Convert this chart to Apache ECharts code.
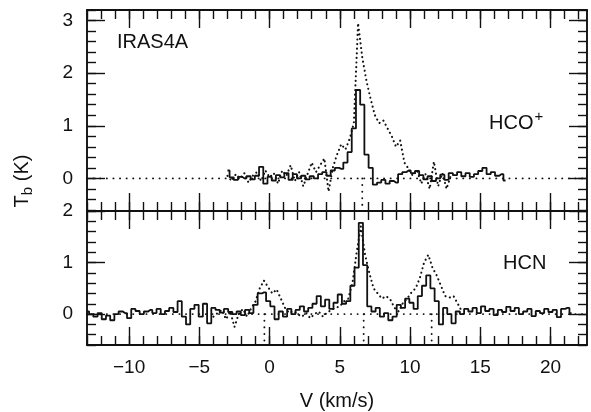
<!DOCTYPE html>
<html>
<head>
<meta charset="utf-8">
<script src="https://cdn.jsdelivr.net/npm/echarts@6/dist/echarts.min.js"></script>
<style>
html,body{margin:0;padding:0;background:#fff;}
#chart{width:591px;height:412px;}
</style>
</head>
<body>
<div id="chart"></div>
<script>
// ---------- data ----------
const channelWidth = 0.3;            // km/s
const xRange = [-13, 22.6];
const yTopRange = [-0.62, 3.2];
const yBotRange = [-0.6, 2.0];

const xMajorTicks = [-10, -5, 0, 5, 10, 15, 20];
const xMinorTicks = [-13,-12,-11,-10,-9,-8,-7,-6,-5,-4,-3,-2,-1,0,1,2,3,4,5,6,7,8,9,10,11,12,13,14,15,16,17,18,19,20,21,22];
const yTopMajorTicks = [0, 1, 2, 3];
const yTopMinorTicks = [-0.6,-0.4,-0.2,0,0.2,0.4,0.6,0.8,1,1.2,1.4,1.6,1.8,2,2.2,2.4,2.6,2.8,3,3.2];
const yBotMajorTicks = [0, 1, 2];
const yBotMinorTicks = [-0.6,-0.4,-0.2,0,0.2,0.4,0.6,0.8,1,1.2,1.4,1.6,1.8,2];

// HCO+ panel, solid spectrum (first channel at -3.0 km/s)
const hcoSolidStart = -3.0;
const hcoSolid = [
  0.15, 0.02, -0.03, 0.03, 0.00, 0.04, -0.02, 0.05, 0.22, -0.10,   // -3.0 .. -0.3
  0.03, -0.04, 0.06, 0.02, 0.10, -0.03, 0.08, 0.00, 0.05, -0.02,   //  0.0 ..  2.7
  0.04, 0.00, 0.08, 0.12, 0.05, 0.15, 0.20, 0.18, 0.30, 0.50,      //  3.0 ..  5.7
  0.95, 1.68, 1.40, 0.45, 0.20, -0.12, -0.08, -0.03, -0.10, -0.05, //  6.0 ..  8.7
  -0.08, 0.08, 0.12, 0.15, 0.10, 0.14, 0.06, -0.02, 0.04, -0.05,   //  9.0 .. 11.7
  0.00, 0.07, -0.03, 0.10, 0.06, 0.12, 0.04, 0.10, 0.03, 0.08,     // 12.0 .. 14.7
  0.14, 0.20, 0.08, 0.12, 0.05, 0.08, -0.04                        // 15.0 .. 16.8
];
// HCO+ panel, dotted spectrum (first channel at -3.0 km/s)
const hcoDottedStart = -3.0;
const hcoDotted = [
  0.05, -0.05, 0.08, 0.00, 0.10, -0.08, 0.05, 0.12, -0.05, 0.15,   // -3.0 .. -0.3
  0.02, 0.10, -0.10, 0.15, 0.05, 0.25, -0.05, 0.12, -0.15, 0.08,   //  0.0 ..  2.7
  0.30, 0.12, 0.25, 0.38, -0.25, 0.20, 0.45, 0.65, 0.55, 0.75,     //  3.0 ..  5.7
  1.05, 2.95, 2.30, 1.85, 1.50, 1.20, 1.05, 1.10, 0.95, 0.80,      //  6.0 ..  8.7
  0.60, 0.72, 0.30, 0.18, 0.05, 0.15, -0.10, 0.08, -0.20, 0.32,    //  9.0 .. 11.7
  -0.15, 0.10, -0.20, 0.05                                         // 12.0 .. 12.9
];
// HCN panel, solid spectrum (first channel at -13.0 km/s)
const hcnSolidStart = -13.0;
const hcnSolid = [
  0.05, 0.00, -0.05, 0.02, -0.10, -0.03, -0.12, 0.00, 0.05, 0.02,  // -13.0 .. -10.3
  -0.08, 0.10, 0.06, 0.00, 0.05, 0.08, 0.02, 0.10, 0.00, 0.06,     // -10.0 ..  -7.3
  0.12, 0.04, 0.25, -0.05, -0.20, 0.10, 0.18, -0.05, 0.20, -0.18,  //  -7.0 ..  -4.3
  0.12, 0.08, 0.03, 0.10, 0.04, 0.00, 0.05, -0.02, 0.08, 0.02,     //  -4.0 ..  -1.3
  0.18, 0.40, 0.42, 0.25, 0.15, -0.10, 0.05, -0.05, 0.10, 0.00,    //  -1.0 ..   1.7
  0.08, 0.15, 0.05, 0.12, 0.20, 0.35, 0.15, 0.28, 0.10, 0.22,      //   2.0 ..   4.7
  0.38, 0.20, 0.25, 0.55, 0.90, 1.77, 0.95, 0.15, 0.05, 0.12,      //   5.0 ..   7.7
  -0.05, 0.02, -0.12, -0.05, 0.18, 0.12, 0.30, 0.22, 0.10, 0.35,   //   8.0 ..  10.7
  0.55, 0.75, 0.50, 0.25, -0.20, 0.12, 0.00, -0.18, 0.05, 0.00,    //  11.0 ..  13.7
  0.10, 0.05, 0.12, 0.02, 0.15, 0.06, 0.10, -0.02, 0.08, 0.04,     //  14.0 ..  16.7
  0.14, 0.06, 0.12, 0.00, 0.05, 0.10, -0.04, 0.06, 0.02, 0.10,     //  17.0 ..  19.7
  0.04, 0.08, -0.06, 0.10, 0.12, 0.02                              //  20.0 ..  21.5
];
// HCN panel, dotted spectrum (first channel at -4.0 km/s)
const hcnDottedStart = -4.0;
const hcnDotted = [
  -0.05, 0.02, 0.08, -0.10, 0.05, -0.25, 0.00, 0.10, -0.05, 0.12,  // -4.0 .. -1.3
  0.25, 0.50, 0.65, 0.52, 0.40, 0.48, 0.30, 0.12, 0.02, 0.06,      // -1.0 ..  1.7
  0.00, -0.05, 0.02, -0.08, 0.00, 0.05, -0.05, 0.03, 0.08, 0.12,   //  2.0 ..  4.7
  0.15, 0.25, 0.30, 0.60, 1.20, 1.70, 1.15, 0.80, 0.50, 0.40,      //  5.0 ..  7.7
  0.30, 0.35, 0.28, 0.12, 0.05, 0.22, 0.30, 0.42, 0.50, 0.70,      //  8.0 .. 10.7
  1.00, 1.15, 0.90, 0.75, 0.55, 0.35, 0.32, 0.35, 0.20, 0.05       // 11.0 .. 13.7
];
// velocity markers (dotted verticals below zero)
const hcoMarkers = [6.6];
const hcnMarkers = [-0.37, 6.7, 11.54];
const markerDepth = -0.6;

// ---------- build ----------
const FONT = 'Liberation Sans';
const INK = '#111';

function toPairs(v0, vals) {
  return vals.map((t, i) => [Math.round((v0 + i * channelWidth) * 100) / 100, t]);
}

function xAx(grid, pos, ticks, len, showLine, labels, name) {
  return {
    type: 'value', gridIndex: grid, position: pos,
    min: xRange[0], max: xRange[1],
    axisLine: { show: showLine, onZero: false, lineStyle: { color: INK, width: 1.9 } },
    axisTick: { show: true, inside: true, length: len, customValues: ticks,
                lineStyle: { color: INK, width: 1.4 } },
    axisLabel: labels ? { show: true, customValues: labels, margin: 13,
                fontSize: 19, fontFamily: FONT, color: INK,
                formatter: v => String(v).replace('-', '\u2212') } : { show: false },
    splitLine: { show: false },
    name: name || '', nameLocation: 'middle', nameGap: 46,
    nameTextStyle: { fontSize: 20, fontFamily: FONT, color: INK }
  };
}
function yAx(grid, pos, range, ticks, len, showLine, labels) {
  return {
    type: 'value', gridIndex: grid, position: pos,
    min: range[0], max: range[1],
    axisLine: { show: showLine, onZero: false, lineStyle: { color: INK, width: 1.9 } },
    axisTick: { show: true, inside: true, length: len, customValues: ticks,
                lineStyle: { color: INK, width: 1.4 } },
    axisLabel: labels ? { show: true, customValues: labels, margin: 14,
                fontSize: 19, fontFamily: FONT, color: INK } : { show: false },
    splitLine: { show: false }
  };
}

const xAxes = [
  xAx(0, 'bottom', xMajorTicks, 18, true, null),
  xAx(0, 'bottom', xMinorTicks, 9, false, null),
  xAx(0, 'top', xMajorTicks, 18, true, null),
  xAx(0, 'top', xMinorTicks, 9, false, null),
  xAx(1, 'bottom', xMajorTicks, 18, true, xMajorTicks, 'V (km/s)'),
  xAx(1, 'bottom', xMinorTicks, 9, false, null),
  xAx(1, 'top', xMajorTicks, 18, true, null),
  xAx(1, 'top', xMinorTicks, 9, false, null)
];
const yAxes = [
  yAx(0, 'left', yTopRange, yTopMajorTicks, 18, true, yTopMajorTicks),
  yAx(0, 'left', yTopRange, yTopMinorTicks, 9, false, null),
  yAx(0, 'right', yTopRange, yTopMajorTicks, 18, true, null),
  yAx(0, 'right', yTopRange, yTopMinorTicks, 9, false, null),
  yAx(1, 'left', yBotRange, yBotMajorTicks, 18, true, yBotMajorTicks),
  yAx(1, 'left', yBotRange, yBotMinorTicks, 9, false, null),
  yAx(1, 'right', yBotRange, yBotMajorTicks, 18, true, null),
  yAx(1, 'right', yBotRange, yBotMinorTicks, 9, false, null)
];

const dotStyle = { color: INK, width: 2.1, type: [0.1, 4.5], cap: 'round' };
const zeroStyle = { color: INK, width: 1.9, type: [0.1, 6.5], cap: 'round' };
const solidStyle = { color: INK, width: 1.8 };

function lineSeries(g, data, style, step, z) {
  return {
    type: 'line', xAxisIndex: g * 4, yAxisIndex: g * 4, data: data,
    showSymbol: false, symbol: 'none', step: step || false,
    lineStyle: style, z: z, silent: true
  };
}

const series = [];
[0, 1].forEach(g => {
  series.push(lineSeries(g, [[xRange[0], 0], [xRange[1], 0]], zeroStyle, false, 1));
});
hcoMarkers.forEach(v => series.push(lineSeries(0, [[v, 0], [v, markerDepth]], zeroStyle, false, 1)));
hcnMarkers.forEach(v => series.push(lineSeries(1, [[v, 0], [v, markerDepth]], zeroStyle, false, 1)));
series.push(lineSeries(0, toPairs(hcoDottedStart, hcoDotted), dotStyle, false, 2));
series.push(lineSeries(0, toPairs(hcoSolidStart, hcoSolid), solidStyle, 'middle', 3));
series.push(lineSeries(1, toPairs(hcnDottedStart, hcnDotted), dotStyle, false, 2));
series.push(lineSeries(1, toPairs(hcnSolidStart, hcnSolid), solidStyle, 'middle', 3));

const option = {
  animation: false,
  backgroundColor: '#fff',
  grid: [
    { left: 87, top: 10, width: 500, height: 201 },
    { left: 87, top: 211, width: 500, height: 137 }
  ],
  xAxis: xAxes,
  yAxis: yAxes,
  series: series,
  graphic: [
    { type: 'text', x: 117, y: 42, style: { text: 'IRAS4A', font: '20px "Liberation Sans"', fill: INK, verticalAlign: 'middle' } },
    { type: 'text', x: 489, y: 123, style: {
        text: '{m|HCO}{p|+}', verticalAlign: 'middle', fill: INK,
        rich: { m: { fontSize: 20, fontFamily: FONT, fill: INK, lineHeight: 24 },
                p: { fontSize: 15, fontFamily: FONT, fill: INK, lineHeight: 24, padding: [0, 0, 12, 1] } } } },
    { type: 'text', x: 503, y: 263, style: { text: 'HCN', font: '20px "Liberation Sans"', fill: INK, verticalAlign: 'middle' } },
    { type: 'text', x: 22, y: 181, rotation: Math.PI / 2, style: {
        text: '{t|T}{s|b}{t| (K)}', align: 'center', verticalAlign: 'middle', fill: INK,
        rich: { t: { fontSize: 20, fontFamily: FONT, fill: INK, lineHeight: 24 },
                s: { fontSize: 15, fontFamily: FONT, fill: INK, lineHeight: 24, padding: [12, 0, 0, 0] } } } }
  ]
};

const chart = echarts.init(document.getElementById('chart'), null, { renderer: 'canvas' });
chart.setOption(option);
</script>
</body>
</html>
